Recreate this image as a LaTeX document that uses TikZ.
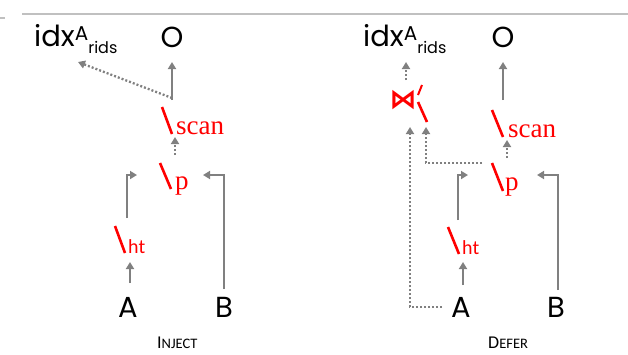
\documentclass[tikz,border=0pt]{standalone}
\usepackage{fontspec}
\setmainfont{Poppins}
\newfontfamily\redserif{Liberation Serif}
\newfontfamily\capsfont{Carlito}
\newfontfamily\symfont{DejaVu Sans}
\usetikzlibrary{arrows.meta}
\definecolor{arrgray}{HTML}{808080}
\definecolor{rulegray}{HTML}{C0C0C0}
\definecolor{opred}{HTML}{FF0000}
\tikzset{
  lbl/.style={inner sep=0pt, font=\fontsize{29}{29}\selectfont, anchor=base},
  idxlbl/.style={inner sep=0pt, font=\fontsize{29}{29}\selectfont, anchor=base west},
  opnode/.style={inner sep=0pt, text=opred, font=\redserif\fontsize{27}{27}\selectfont, anchor=base west},
  htnode/.style={inner sep=0pt, text=opred, font=\capsfont\fontsize{20}{20}\selectfont, anchor=base west},
  joinnode/.style={inner sep=0pt, text=opred, font=\symfont\bfseries\fontsize{27}{27}\selectfont},
  slash/.style={draw=opred, line width=2.6pt},
  primestroke/.style={draw=opred, line width=2pt},
  solidarr/.style={draw=arrgray, line width=2.3pt, -{Triangle[width=8pt,length=7pt]}},
  dotarr/.style={draw=arrgray, line width=2.3pt, dash pattern=on 2pt off 2pt, -{Triangle[width=8pt,length=7pt]}},
  caption/.style={inner sep=0pt, font=\capsfont},
  rulel/.style={draw=rulegray, line width=1.5pt}
}
\newcommand{\idxlabel}{idx\raisebox{6pt}{\fontsize{20}{20}\selectfont A}\raisebox{-7pt}{\fontsize{16}{16}\selectfont rids}}
\begin{document}
\begin{tikzpicture}[x=1pt,y=-1pt]
\useasboundingbox (0,0) rectangle (628,354);
% top rules
\coordinate (r1a) at (22,14); \coordinate (r1b) at (628,14);
\coordinate (r2a) at (0,18); \coordinate (r2b) at (5,18);
\draw[rulel] (r1a) -- (r1b);
\draw[rulel] (r2a) -- (r2b);

% ================= INJECT =================
\node[idxlbl] (idxL) at (34,46) {\idxlabel};
\node[lbl] (OL) at (172,47) {O};
\node[opnode] (scanL) at (176,134) {scan};
\node[opnode] (pL) at (175,189) {p};
\node[htnode] (htL) at (128,253) {ht};
\node[lbl] (AL) at (128,317) {A};
\node[lbl] (BL) at (224,317) {B};
\node[caption, anchor=base west] (capL) at (157,348) {\fontsize{18}{18}\selectfont I\fontsize{14.5}{14.5}\selectfont NJECT};

\draw[slash] (162,107) -- (172,134);
\draw[slash] (160,163) -- (171,189);
\draw[slash] (115,226) -- (125,253);

\coordinate (sLtop) at (172,100); \coordinate (OLbot) at (172,62);
\coordinate (sLdot) at (172,98); \coordinate (idxLbot) at (78,62);
\coordinate (pLtop) at (175,155); \coordinate (sLbot) at (175,137);
\coordinate (htLtop) at (127,218); \coordinate (htLc) at (127,175); \coordinate (pLw) at (137,175);
\coordinate (BLtop) at (224,289); \coordinate (BLc) at (224,175); \coordinate (pLe) at (203,175);
\coordinate (ALtop) at (130,283); \coordinate (htLbot) at (130,262);

\draw[solidarr] (sLtop) -- (OLbot);
\draw[dotarr] (sLdot) -- (idxLbot);
\draw[dotarr] (pLtop) -- (sLbot);
\draw[solidarr] (htLtop) -- (htLc) -- (pLw);
\draw[solidarr] (BLtop) -- (BLc) -- (pLe);
\draw[solidarr] (ALtop) -- (htLbot);

% ================= DEFER =================
\node[idxlbl] (idxR) at (363,46) {\idxlabel};
\node[lbl] (OR) at (503,47) {O};
\node[joinnode] (joinR) at (403,100) {⋈};
\node[opnode] (scanR) at (508,137) {scan};
\node[opnode] (pR) at (505,190) {p};
\node[htnode] (htR) at (462,254) {ht};
\node[lbl] (AR) at (461,317) {A};
\node[lbl] (BR) at (556,317) {B};
\node[caption, anchor=base west] (capR) at (488,348) {\fontsize{18}{18}\selectfont D\fontsize{14.5}{14.5}\selectfont EFER};

\draw[primestroke] (422,85) -- (418,95);
\draw[slash] (418,102) -- (427,122);
\draw[slash] (492,110) -- (503,137);
\draw[slash] (492,163) -- (503,191);
\draw[slash] (448,227) -- (459,254);

\coordinate (jRtop) at (406,80); \coordinate (idxRbot) at (406,62);
\coordinate (sRtop) at (503,100); \coordinate (ORbot) at (503,62);
\coordinate (pRtop) at (507,158); \coordinate (sRbot) at (507,140);
\coordinate (htRtop) at (458,220); \coordinate (htRc) at (458,175); \coordinate (pRw) at (468,175);
\coordinate (BRtop) at (558,290); \coordinate (BRc) at (558,175); \coordinate (pRe) at (537,175);
\coordinate (ARtop) at (463,285); \coordinate (htRbot) at (463,262);
\coordinate (pRleft) at (482,163); \coordinate (pRc) at (426,163); \coordinate (jRbot2) at (426,127);
\coordinate (ARleft) at (442,307); \coordinate (ARc) at (410,307); \coordinate (jRbot1) at (410,127);

\draw[dotarr] (jRtop) -- (idxRbot);
\draw[solidarr] (sRtop) -- (ORbot);
\draw[dotarr] (pRtop) -- (sRbot);
\draw[solidarr] (htRtop) -- (htRc) -- (pRw);
\draw[solidarr] (BRtop) -- (BRc) -- (pRe);
\draw[solidarr] (ARtop) -- (htRbot);
\draw[dotarr] (pRleft) -- (pRc) -- (jRbot2);
\draw[dotarr] (ARleft) -- (ARc) -- (jRbot1);
\end{tikzpicture}
\end{document}
